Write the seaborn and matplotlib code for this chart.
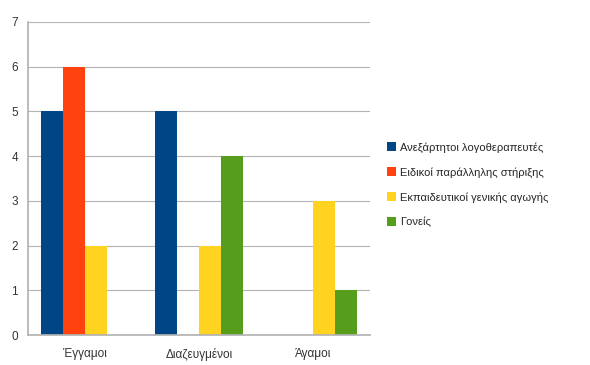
import matplotlib
matplotlib.use("Agg")
import matplotlib.pyplot as plt
import seaborn as sns
import pandas as pd

categories = ["Έγγαμοι", "Διαζευγμένοι", "Άγαμοι"]
series = ["Ανεξάρτητοι λογοθεραπευτές", "Ειδικοί παράλληλης στήριξης",
          "Εκπαιδευτικοί γενικής αγωγής", "Γονείς"]
indep = [5, 5, 0]
special = [6, 0, 0]
teachers = [2, 2, 3]
parents = [0, 4, 1]
colors = ["#004586", "#ff420e", "#ffd320", "#579d1c"]

rows = []
for s, vals in zip(series, [indep, special, teachers, parents]):
    for c, v in zip(categories, vals):
        rows.append({"cat": c, "series": s, "value": v})
df = pd.DataFrame(rows)

sns.set_theme(style="white")
plt.rcParams['font.family'] = ['Liberation Sans', 'DejaVu Sans']

fig = plt.figure(figsize=(5.9, 3.65), dpi=100)
ax = fig.add_axes([0.047, 0.082, 0.58, 0.858])
sns.barplot(data=df, x="cat", y="value", hue="series", palette=colors,
            width=0.77, gap=0, saturation=1, linewidth=0, ax=ax, legend=True)
ax.set_ylim(0, 7)
ax.set_xlim(-0.5, 2.5)
ax.set_yticks(range(0, 8))
ax.yaxis.grid(True, color="#b3b3b3", linewidth=0.8)
ax.set_axisbelow(True)
ax.set_xlabel("")
ax.set_ylabel("")
for s in ["top", "right"]:
    ax.spines[s].set_visible(False)
for s in ["left", "bottom"]:
    ax.spines[s].set_color("#b3b3b3")
ax.tick_params(axis="both", labelsize=8.5, colors="#333333", length=0, pad=9)
ax.set_xticks([0.5, 1.5], minor=True)
ax.tick_params(axis="x", which="minor", length=4, color="#b3b3b3", direction="out")
ax.tick_params(axis="y", length=4, color="#b3b3b3", direction="out", pad=3)
leg = ax.legend(loc="center left", bbox_to_anchor=(1.02, 0.48), frameon=False,
                fontsize=8, handlelength=0.8, handleheight=0.8, handletextpad=0.4,
                labelspacing=1.3)
fig.savefig("out.png", dpi=100)
